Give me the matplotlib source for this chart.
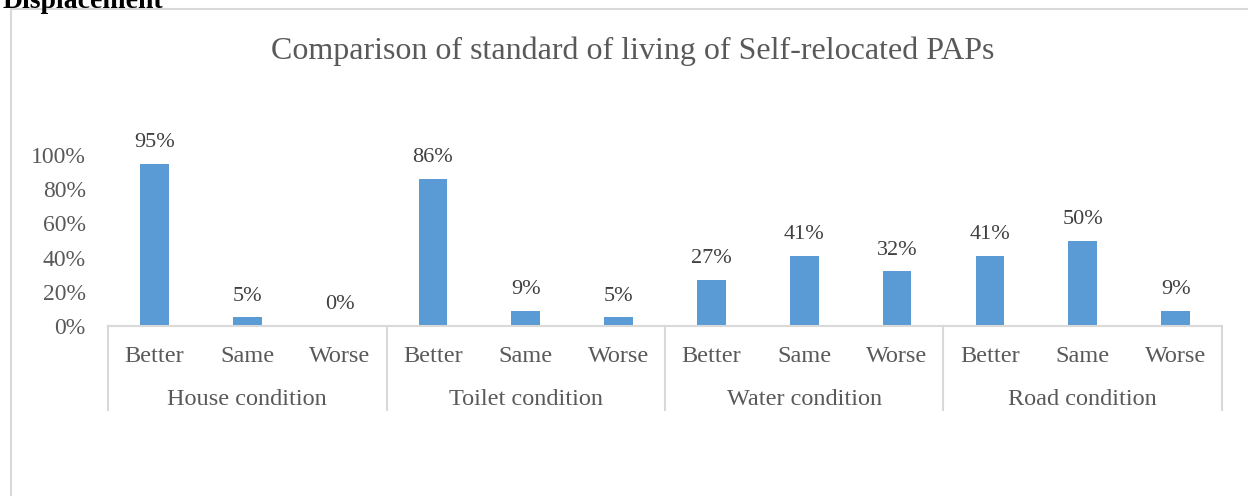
import matplotlib.pyplot as plt
import matplotlib.transforms as mtransforms
from matplotlib.patches import Rectangle

plt.rcParams['font.family'] = ['Liberation Serif', 'DejaVu Serif']

# данные
groups = ['House condition', 'Toilet condition', 'Water condition', 'Road condition']
categories = ['Better', 'Same', 'Worse']
values = [0.95, 0.05, 0.00,
          0.86, 0.09, 0.05,
          0.27, 0.41, 0.32,
          0.41, 0.50, 0.09]
labels = ['95%', '5%', '0%',
          '86%', '9%', '5%',
          '27%', '41%', '32%',
          '41%', '50%', '9%']
yticks = [0, 0.2, 0.4, 0.6, 0.8, 1.0]
ytick_labels = ['0%', '20%', '40%', '60%', '80%', '100%']

grey = '#595959'
line_grey = '#d9d9d9'
bar_color = '#5b9bd5'

fig = plt.figure(figsize=(12.48, 4.96), dpi=100)
ax = fig.add_axes([108 / 1248, 1 - 326 / 496, (1222 - 108) / 1248, 171 / 496])

x = list(range(len(values)))
bars = ax.bar(x, values, width=0.31, color=bar_color, zorder=2)

for xi, v, lab in zip(x, values, labels):
    ax.annotate(lab, (xi, v), xytext=(0, 12), textcoords='offset points',
                ha='center', va='baseline', fontsize=16, color='#404040')

ax.set_xlim(-0.5, len(values) - 0.5)
ax.set_ylim(0, 1.0)
ax.set_yticks(yticks)
ax.set_yticklabels(ytick_labels, fontsize=17, color=grey)
ax.tick_params(axis='y', length=0, pad=16)
ax.set_xticks([])

for s in ['top', 'right', 'left']:
    ax.spines[s].set_visible(False)
ax.spines['bottom'].set_color(line_grey)
ax.spines['bottom'].set_linewidth(1.5)

# подписи категорий и групп
trans = mtransforms.blended_transform_factory(ax.transData, ax.transAxes)
for i in x:
    ax.text(i, -0.18, categories[i % 3], transform=trans, ha='center', va='center',
            fontsize=17.5, color=grey)
for g, name in enumerate(groups):
    ax.text(g * 3 + 1, -0.43, name, transform=trans, ha='center', va='center',
            fontsize=17.5, color=grey)
for g in range(len(groups) + 1):
    ax.plot([g * 3 - 0.5, g * 3 - 0.5], [0, -0.49], transform=trans, color=line_grey,
            linewidth=1.5, clip_on=False)

fig.text(0.507, 1 - 51 / 496, 'Comparison of standard of living of Self-relocated PAPs',
         ha='center', va='center', fontsize=23, color=grey)

# рамка и обрезанный заголовок сверху
fig.patches.append(Rectangle((11 / 1248, -0.1), 1.2, 1.1 - 9 / 496, transform=fig.transFigure,
                             fill=False, edgecolor=line_grey, linewidth=1.5))
fig.text(0.002, 1 - 8 / 496, 'Displacement', ha='left', va='baseline', fontsize=20,
         fontweight='bold', color='black')

fig.savefig('out.png', dpi=100)
